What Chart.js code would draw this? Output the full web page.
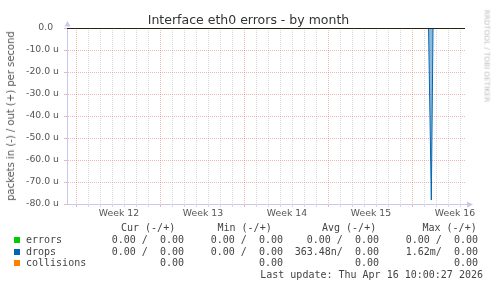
<!DOCTYPE html>
<html>
<head>
<meta charset="utf-8">
<script src="https://cdn.jsdelivr.net/npm/chart.js@4.4.1/dist/chart.umd.min.js"></script>
<style>
  body { margin: 0; background: #fff; }
  #wrap { position: relative; width: 497px; height: 288px; overflow: hidden; font-family: "DejaVu Sans", sans-serif; }
  #c { position: absolute; left: 0; top: 0; }
  .t { position: absolute; white-space: pre; color: #444; }
  .m { font-family: "DejaVu Sans Mono", monospace; font-size: 10px; line-height: 12px; }
  .r { text-align: right; }
  .sq { position: absolute; width: 6px; height: 6px; }
</style>
</head>
<body>
<div id="wrap">
  <canvas id="c" width="497" height="288"></canvas>
  <div class="t" style="left:0;width:497px;top:13px;line-height:14px;text-align:center;font-size:12.5px;color:#333">Interface eth0 errors - by month</div>
  <div class="t" style="left:11px;top:116px;font-size:10px;line-height:12px;color:#555;transform:translate(-50%,-50%) rotate(-90deg)">packets in (-) / out (+) per second</div>
  <div class="t" style="left:487px;top:56px;font-size:7.2px;line-height:9px;color:#bbb;transform:translate(-50%,-50%) rotate(90deg)">RRDTOOL / TOBI OETIKER</div>
  <div id="legend"></div>
</div>
<script>
// time axis in days from the left edge of the graph
const xMax = 33.25;
const weekLabels = ["Week 12", "Week 13", "Week 14", "Week 15", "Week 16"];
const weekStarts = [0.833, 7.833, 14.833, 21.833, 28.833];

// series (micro packets / second, negative = in)
const zeroT = [0, 33.17];
const errorsIn = [0, 0];
const collisions = [0, 0];
const dropsT = [0, 30.13, 30.36, 30.5, 33.17];
const dropsIn = [0, 0, -78.2, 0, 0];

const yMin = -80, yMax = 0, yStep = 5;

// legend table
const legendNames = ["errors", "drops", "collisions"];
const legendColors = ["#00cc00", "#0066b3", "#ff8000"];
const colHeads = ["Cur (-/+)", "Min (-/+)", "Avg (-/+)", "Max (-/+)"];
const curVals = ["0.00 /  0.00", "0.00 /  0.00", "0.00"];
const minVals = ["0.00 /  0.00", "0.00 /  0.00", "0.00"];
const avgVals = ["0.00 /  0.00", "363.48n/  0.00", "0.00"];
const maxVals = ["0.00 /  0.00", "1.62m/  0.00", "0.00"];
const lastUpdate = "Last update: Thu Apr 16 10:00:27 2026";

// legend layout
(function () {
  const lg = document.getElementById("legend");
  const rowY = [240, 252, 263];
  const colRight = [184, 283, 379, 478];
  const headLeft = [121, 217.5, 322, 422.5];
  const cols = [curVals, minVals, avgVals, maxVals];
  let h = "";
  colHeads.forEach((s, i) => {
    h += `<div class="t m" style="left:${headLeft[i]}px;top:${228 - 6}px">${s}</div>`;
  });
  legendNames.forEach((n, r) => {
    h += `<div class="sq" style="left:14px;top:${rowY[r] - 3}px;background:${legendColors[r]}"></div>`;
    h += `<div class="t m" style="left:26px;top:${rowY[r] - 6}px">${n}</div>`;
    cols.forEach((c, i) => {
      h += `<div class="t m r" style="right:${497 - colRight[i]}px;top:${rowY[r] - 6}px">${c[r]}</div>`;
    });
  });
  h += `<div class="t m r" style="right:${497 - 483}px;top:${275 - 6}px">${lastUpdate}</div>`;
  lg.innerHTML = h;
})();

const axisColor = "#c8c8f0";
const majorColor = "rgba(230,110,110,0.5)";
const minorColor = "#dadada";
const near = (a, b) => Math.abs(a - b) < 0.01;
const weekCenters = weekStarts.map(w => w + 3.5);

const arrows = {
  id: "arrows",
  afterDraw(chart) {
    const { ctx, chartArea: a } = chart;
    ctx.save();
    ctx.fillStyle = axisColor;
    ctx.strokeStyle = axisColor;
    ctx.lineWidth = 1;
    ctx.beginPath();
    ctx.moveTo(a.right, a.bottom + 0.5);
    ctx.lineTo(a.right + 2, a.bottom + 0.5);
    ctx.stroke();
    ctx.beginPath();
    ctx.moveTo(a.right + 7, a.bottom + 0.5);
    ctx.lineTo(a.right + 1, a.bottom - 2.5);
    ctx.lineTo(a.right + 1, a.bottom + 3.5);
    ctx.fill();
    ctx.beginPath();
    ctx.moveTo(a.left + 0.5, a.top - 7);
    ctx.lineTo(a.left - 2.5, a.top - 1.5);
    ctx.lineTo(a.left + 3.5, a.top - 1.5);
    ctx.fill();
    ctx.restore();
  }
};

const pts = (t, v) => t.map((x, i) => ({ x, y: v[i] }));

new Chart(document.getElementById("c"), {
  type: "line",
  data: {
    datasets: [
      { label: "zero", order: 0, data: pts(zeroT, errorsIn), borderColor: "#000", borderWidth: 1.5, pointRadius: 0 },
      { label: "collisions", order: 1, data: pts(zeroT, collisions), borderColor: "#ff8000", borderWidth: 1, pointRadius: 0 },
      { label: "drops", order: 2, data: pts(dropsT, dropsIn), borderColor: "#0066b3", backgroundColor: "rgba(0,102,179,0.45)", fill: "origin", borderWidth: 1, pointRadius: 0 },
      { label: "errors", order: 3, data: pts(zeroT, errorsIn), borderColor: "#00cc00", borderWidth: 1, pointRadius: 0 }
    ]
  },
  options: {
    responsive: false,
    animation: false,
    layout: { padding: { top: 28, right: 31, bottom: 0, left: 0 } },
    plugins: { legend: { display: false }, tooltip: { enabled: false } },
    scales: {
      x: {
        type: "linear", min: 0, max: xMax,
        afterFit(s) { s.height = 84; },
        afterBuildTicks(s) {
          const t = [];
          for (let d = weekStarts[0] % 1; d <= xMax; d += 1) t.push({ value: d });
          weekCenters.forEach(c => t.push({ value: c }));
          t.sort((a, b) => a.value - b.value);
          s.ticks = t;
        },
        grid: {
          color(c) {
            const v = c.tick && c.tick.value;
            if (weekCenters.some(w => near(w, v))) return "rgba(0,0,0,0)";
            return weekStarts.some(w => near(w, v)) ? majorColor : minorColor;
          },
          tickLength: 3
        },
        border: { color: axisColor, dash: [1, 1] },
        ticks: {
          autoSkip: false, maxRotation: 0, padding: 1, color: "#555",
          font: { family: "DejaVu Sans", size: 9.3 },
          callback(v) {
            const i = weekCenters.findIndex(w => near(w, v));
            return i >= 0 ? weekLabels[i] : "";
          }
        }
      },
      y: {
        min: yMin, max: yMax,
        afterFit(s) { s.width = 67; },
        afterBuildTicks(s) {
          const t = [];
          for (let v = yMin; v <= yMax; v += yStep) t.push({ value: v });
          s.ticks = t;
        },
        grid: {
          color(c) {
            const v = c.tick && c.tick.value;
            return v % 10 === 0 ? majorColor : minorColor;
          },
          tickLength: 3
        },
        border: { color: axisColor, dash: [1, 1] },
        ticks: {
          padding: 5, color: "#555",
          font: { family: "DejaVu Sans", size: 9.3 },
          callback(v) {
            if (v % 10 !== 0) return "";
            return v === 0 ? "0.0  " : v.toFixed(1) + " u";
          }
        }
      }
    }
  },
  plugins: [arrows]
});
</script>
</body>
</html>
